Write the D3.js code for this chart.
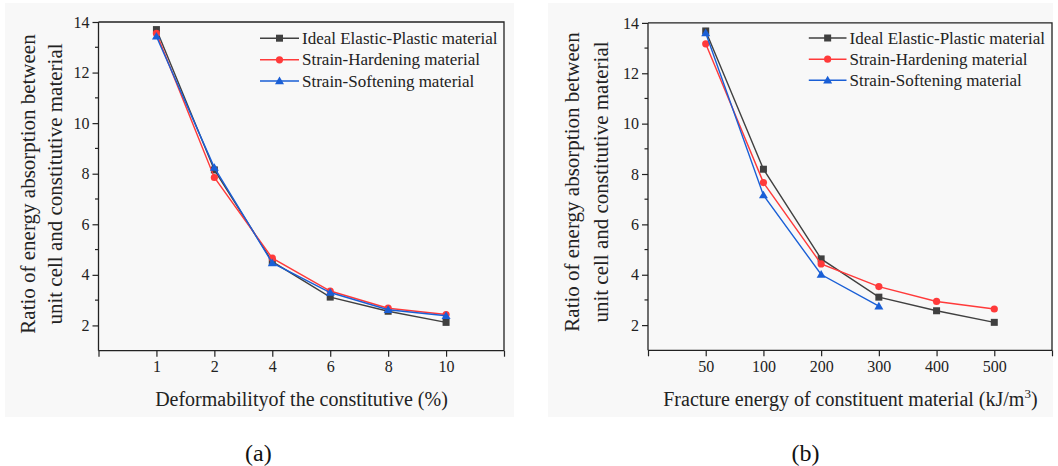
<!DOCTYPE html>
<html>
<head>
<meta charset="utf-8">
<script src="https://cdn.jsdelivr.net/npm/d3@7"></script>
<style>
  body { margin: 0; background: #fff; }
  svg { display: block; font-family: "Liberation Serif", "Times New Roman", serif; }
</style>
</head>
<body>
<svg id="chart" width="1058" height="466"></svg>
<script>
// categories (shown as evenly spaced ticks)
var defCats = ["1", "2", "4", "6", "8", "10"];
var energyCats = ["50", "100", "200", "300", "400", "500"];
var seriesNames = ["Ideal Elastic-Plastic material", "Strain-Hardening material", "Strain-Softening material"];
var seriesColors = ["#404040", "#ff3a3a", "#1a5fd6"];
var seriesMarks = ["square", "circle", "triangle"];

// panel (a)
var defIdeal = [13.70, 8.15, 4.52, 3.12, 2.56, 2.12];
var defHard  = [13.55, 7.85, 4.66, 3.36, 2.68, 2.43];
var defSoft  = [13.43, 8.24, 4.47, 3.30, 2.62, 2.38];
// panel (b)
var enIdeal = [13.68, 8.19, 4.63, 3.11, 2.57, 2.11];
var enHard  = [13.17, 7.66, 4.43, 3.53, 2.94, 2.64];
var enSoft  = [13.60, 7.16, 4.01, 2.75];

var yTicks = [2, 4, 6, 8, 10, 12, 14];
var yMinor = [3, 5, 7, 9, 11, 13];

var svg = d3.select("#chart");

function marker(g, kind, x, y, color) {
  if (kind === "square") {
    g.append("rect").attr("x", x - 3.5).attr("y", y - 3.5).attr("width", 7).attr("height", 7).attr("fill", color);
  } else if (kind === "circle") {
    g.append("circle").attr("cx", x).attr("cy", y).attr("r", 3.6).attr("fill", color);
  } else {
    g.append("path").attr("d", "M" + x + "," + (y - 4.5) + "L" + (x + 4.5) + "," + (y + 3.2) + "L" + (x - 4.5) + "," + (y + 3.2) + "Z").attr("fill", color);
  }
}

function drawPanel(o) {
  var g = svg.append("g");
  g.append("rect").attr("x", o.bg[0]).attr("y", 3).attr("width", o.bg[1] - o.bg[0]).attr("height", 414).attr("fill", "#f8f8f8");

  var x = d3.scaleLinear().domain([0, 7]).range([o.left, o.right]);
  var y = d3.scaleLinear().domain([1, 14]).range([o.bottom, o.top]);

  // frame top / right
  g.append("path").attr("d", "M" + o.left + "," + o.top + "H" + o.right + "V" + o.bottom)
    .attr("fill", "none").attr("stroke", "#222").attr("stroke-width", 1.3);

  // y axis
  var ya = g.append("g").attr("transform", "translate(" + o.left + ",0)")
    .call(d3.axisLeft(y).tickValues(yTicks).tickSize(6).tickPadding(3).tickFormat(d3.format("d")));
  ya.append("g").selectAll("line").data(yMinor).enter().append("line")
    .attr("x1", -3.5).attr("x2", 0).attr("y1", function(d) { return y(d); }).attr("y2", function(d) { return y(d); })
    .attr("stroke", "#222").attr("stroke-width", 1.2);
  ya.select(".domain").attr("d", "M0," + o.top + "V" + o.bottom);

  // x axis (categorical positions 1..6, end ticks at 0 and 7)
  var xa = g.append("g").attr("transform", "translate(0," + o.bottom + ")")
    .call(d3.axisBottom(x).tickValues(d3.range(0, 8)).tickSize(6).tickPadding(4)
      .tickFormat(function(d) { return (d >= 1 && d <= o.cats.length) ? o.cats[d - 1] : ""; }));
  xa.select(".domain").attr("d", "M" + o.left + ",0H" + o.right);

  g.selectAll(".domain").attr("stroke", "#222").attr("stroke-width", 1.3);
  g.selectAll(".tick line").attr("stroke", "#222").attr("stroke-width", 1.2);
  g.selectAll(".tick text").attr("font-size", 16).attr("fill", "#222").attr("font-family", "Liberation Serif");

  // series
  o.series.forEach(function(vals, si) {
    var pts = vals.map(function(v, i) { return [x(i + 1), y(v)]; });
    g.append("path").attr("d", d3.line()(pts)).attr("fill", "none")
      .attr("stroke", seriesColors[si]).attr("stroke-width", 1.4);
    pts.forEach(function(p) { marker(g, seriesMarks[si], p[0], p[1], seriesColors[si]); });
  });

  // legend
  seriesNames.forEach(function(name, si) {
    var ly = o.legY[si];
    g.append("line").attr("x1", o.legX[0]).attr("x2", o.legX[1]).attr("y1", ly).attr("y2", ly)
      .attr("stroke", seriesColors[si]).attr("stroke-width", 1.4);
    marker(g, seriesMarks[si], (o.legX[0] + o.legX[1]) / 2, ly, seriesColors[si]);
    g.append("text").attr("x", o.legX[1] + 3).attr("y", ly + 5.5).attr("font-size", 17).attr("fill", "#222").text(name);
  });

  // y label (two lines)
  var ylab = ["Ratio of energy absorption between", "unit cell and constitutive material"];
  ylab.forEach(function(t, i) {
    g.append("text").attr("transform", "translate(" + o.yLabX[i] + "," + o.yLabY + ") rotate(-90)")
      .attr("text-anchor", "middle").attr("font-size", 21).attr("fill", "#222").text(t);
  });

  // x label
  var xl = g.append("text").attr("x", o.xLabX).attr("y", 406).attr("text-anchor", "middle")
    .attr("font-size", 20).attr("fill", "#222");
  xl.append("tspan").text(o.xLabel);
  if (o.xSup) {
    xl.append("tspan").attr("dy", -8).attr("font-size", 13).text(o.xSup);
    xl.append("tspan").attr("dy", 8).text(")");
  }

  svg.append("text").attr("x", o.tagX).attr("y", 461).attr("text-anchor", "middle")
    .attr("font-size", 24).attr("fill", "#111").text(o.tag);
}

drawPanel({
  bg: [5, 514], left: 98.5, right: 504, top: 22, bottom: 350.7,
  cats: defCats, series: [defIdeal, defHard, defSoft],
  legX: [260, 299], legY: [38.2, 59.8, 81],
  yLabX: [34.5, 61.5], yLabY: 184,
  xLabX: 301.5, xLabel: "Deformabilityof the constitutive (%)",
  tagX: 258.4, tag: "(a)"
});

drawPanel({
  bg: [548, 1053], left: 648, right: 1052, top: 22.9, bottom: 350.3,
  cats: energyCats, series: [enIdeal, enHard, enSoft],
  legX: [808.8, 846.5], legY: [38, 59.2, 80.2],
  yLabX: [579, 608], yLabY: 182,
  xLabX: 850.4, xLabel: "Fracture energy of constituent material (kJ/m", xSup: "3",
  tagX: 805.4, tag: "(b)"
});
</script>
</body>
</html>
